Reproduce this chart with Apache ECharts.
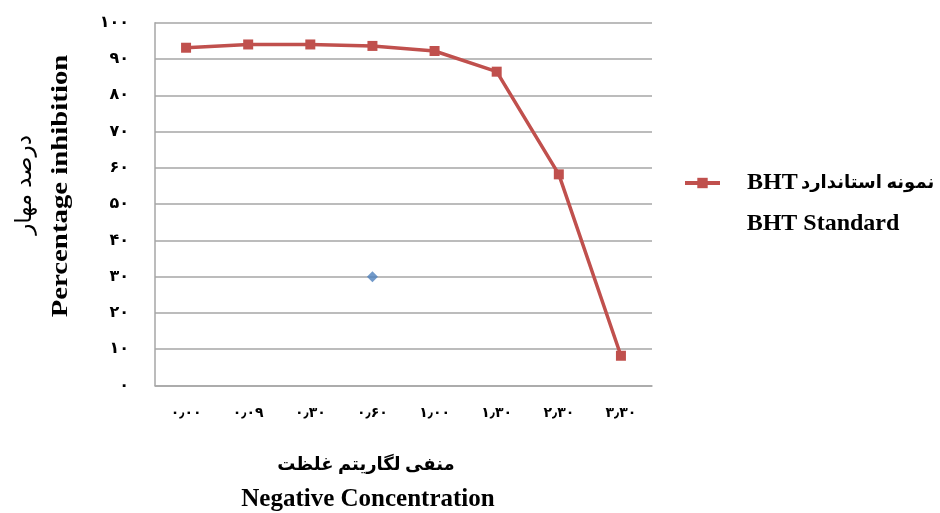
<!DOCTYPE html>
<html><head><meta charset="utf-8">
<script src="https://cdn.jsdelivr.net/npm/echarts@6/dist/echarts.min.js"></script>
<style>html,body{margin:0;padding:0;background:#fff}#c{width:940px;height:513px}</style>
</head><body><div id="c"></div>
<script>
const categories = ['۰٫۰۰','۰٫۰۹','۰٫۳۰','۰٫۶۰','۱٫۰۰','۱٫۳۰','۲٫۳۰','۳٫۳۰'];
const bhtValues = [93.1, 94.0, 94.0, 93.6, 92.2, 86.5, 58.2, 8.2];
const strayPoint = [null, null, null, 30, null, null, null, null];
const yTickLabels = ['۰','۱۰','۲۰','۳۰','۴۰','۵۰','۶۰','۷۰','۸۰','۹۰','۱۰۰'];
const seriesName = 'BHT نمونه استاندارد';
const legendEn = 'BHT';
const legendFa = 'نمونه استاندارد';
const seriesName2 = 'BHT Standard';
const yTitleFa = 'درصد مهار';
const yTitleEn = 'Percentage inhibition';
const xTitleFa = 'منفی لگاریتم غلظت';
const xTitleEn = 'Negative Concentration';

const serif = '"Liberation Serif","Times New Roman","DejaVu Sans",serif';
const chart = echarts.init(document.getElementById('c'), null, {renderer:'canvas'});
chart.setOption({
  animation:false,
  backgroundColor:'#fff',
  grid:{left:155, right:288, top:22.7, bottom:127.5, containLabel:false},
  xAxis:{type:'category', data:categories, boundaryGap:true,
    axisLine:{show:true, lineStyle:{color:'#a6a6a6', width:1.5}},
    axisTick:{show:false},
    axisLabel:{margin:21, color:'#000', fontFamily:serif, fontWeight:'bold', fontSize:14},
    splitLine:{show:false}},
  yAxis:{type:'value', min:0, max:100, interval:10,
    axisLine:{show:true, lineStyle:{color:'#a6a6a6', width:1.5}},
    axisTick:{show:false},
    axisLabel:{margin:26, color:'#000', fontFamily:serif, fontWeight:'bold', fontSize:16,
      formatter:function(v){return yTickLabels[Math.round(v/10)];}},
    splitLine:{show:true, lineStyle:{color:'#a6a6a6', width:1.5}}},
  legend:{show:true, data:[seriesName], left:683, top:171, orient:'vertical', padding:0,
    itemWidth:35, itemHeight:13, itemGap:8,
    lineStyle:{width:4},
    formatter:function(){return '{a|' + legendEn + '} {b|' + legendFa + '}';},
    textStyle:{color:'#000', padding:[0,0,0,22],
      rich:{a:{fontFamily:serif, fontWeight:'bold', fontSize:24, color:'#000'},
            b:{fontFamily:serif, fontWeight:'bold', fontSize:18, color:'#000'}}}},
  series:[
    {name:seriesName, type:'line', data:bhtValues, symbol:'rect', symbolSize:10,
      lineStyle:{color:'#c0504d', width:3.5}, itemStyle:{color:'#c0504d'}},
    {name:'stray', type:'scatter', data:strayPoint, symbol:'diamond', symbolSize:11,
      itemStyle:{color:'#4f81bd'}}
  ],
  graphic:[
    {type:'text', x:823, y:224, style:{text:seriesName2, fontFamily:serif, fontWeight:'bold', fontSize:24, fill:'#000', align:'center', verticalAlign:'middle'}},
    {type:'text', x:61, y:186, rotation:Math.PI/2, scaleX:1.2, style:{text:yTitleEn, fontFamily:serif, fontWeight:'bold', fontSize:24, fill:'#000', align:'center', verticalAlign:'middle'}},
    {type:'text', x:25, y:185, rotation:Math.PI/2, style:{text:yTitleFa, fontFamily:serif, fontWeight:'normal', fontSize:23, fill:'#000', align:'center', verticalAlign:'middle'}},
    {type:'text', x:366, y:465, style:{text:xTitleFa, fontFamily:serif, fontWeight:'bold', fontSize:18, fill:'#000', align:'center', verticalAlign:'middle'}},
    {type:'text', x:368, y:500, style:{text:xTitleEn, fontFamily:serif, fontWeight:'bold', fontSize:25, fill:'#000', align:'center', verticalAlign:'middle'}}
  ]
});
</script></body></html>
